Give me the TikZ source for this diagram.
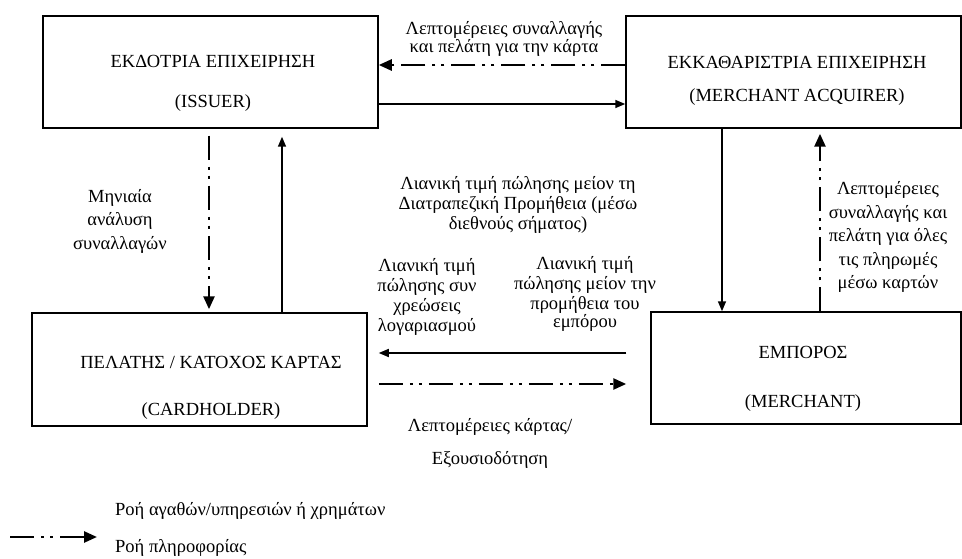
\documentclass[tikz,border=0pt]{standalone}
\usepackage{fontspec}
\setmainfont{Liberation Serif}
\usetikzlibrary{arrows.meta}

\tikzset{
  boite/.style={draw, line width=1.5pt, inner sep=0pt},
  titre/.style={font=\fontsize{18.5}{22}\selectfont, inner sep=0pt},
  legende/.style={font=\fontsize{18.5}{#1}\selectfont, align=center, inner sep=0pt},
  legende/.default=20,
  argent/.style={line width=1.6pt, -{Triangle[length=10pt,width=8pt]}},
  info/.style={line width=2.6pt, dash pattern=on 24pt off 7pt on 3pt off 6pt on 3pt off 7pt,
    -{Triangle[length=13pt,width=11pt]}},
}

\begin{document}
\begin{tikzpicture}[x=1pt,y=-1pt]
\useasboundingbox (0,0) rectangle (962,559);

%% les quatre boites
\node[boite, minimum width=335pt, minimum height=112pt] (issuer) at (210.5,72) {};
\node[boite, minimum width=335pt, minimum height=112pt] (acquirer) at (793.5,72) {};
\node[boite, minimum width=335pt, minimum height=113pt] (cardholder) at (199.5,369.5) {};
\node[boite, minimum width=310pt, minimum height=112pt] (merchant) at (806,368) {};

%% les noms dans les boites
\node[titre] (issuer-gr) at (213,61) {ΕΚΔΟΤΡΙΑ ΕΠΙΧΕΙΡΗΣΗ};
\node[titre] (issuer-en) at (213,103) {(ISSUER)};
\node[titre] (acquirer-gr) at (797,62) {ΕΚΚΑΘΑΡΙΣΤΡΙΑ ΕΠΙΧΕΙΡΗΣΗ};
\node[titre] (acquirer-en) at (797,97) {(MERCHANT ACQUIRER)};
\node[titre] (cardholder-gr) at (211,362) {ΠΕΛΑΤΗΣ / ΚΑΤΟΧΟΣ ΚΑΡΤΑΣ};
\node[titre] (cardholder-en) at (211,411) {(CARDHOLDER)};
\node[titre] (merchant-gr) at (803,352) {ΕΜΠΟΡΟΣ};
\node[titre] (merchant-en) at (803,403) {(MERCHANT)};

%% les fleches du haut
\draw[info] ([yshift=7pt]acquirer.west) -- ([yshift=7pt]issuer.east);
\draw[argent] ([yshift=-32pt]issuer.east) -- ([yshift=-32pt]acquirer.west);

%% a gauche
\draw[info, shorten <=7pt, shorten >=3pt] ([xshift=-1.5pt]issuer.south) -- ([xshift=-1.5pt]issuer.south |- cardholder.north);
\draw[argent, shorten >=8pt] ([xshift=82.5pt]cardholder.north) -- ([xshift=82.5pt]cardholder.north |- issuer.south);

%% a droite
\draw[argent] ([xshift=-71.5pt]acquirer.south) -- ([xshift=-71.5pt]acquirer.south |- merchant.north);
\draw[info, shorten >=5pt] ([xshift=14pt]merchant.north) -- ([xshift=14pt]merchant.north |- acquirer.south);

%% en bas
\draw[argent, shorten <=24pt, shorten >=11pt] ([yshift=15pt]merchant.west) -- ([yshift=15pt]merchant.west -| cardholder.east);
\draw[info, shorten <=11pt, shorten >=24pt] ([yshift=-14.5pt]cardholder.east) -- ([yshift=-14.5pt]cardholder.east -| merchant.west);

%% notations
\node[legende=17] (txt-haut) at (504,39) {Λεπτομέρειες συναλλαγής\\και πελάτη για την κάρτα};
\node[legende=23.5] (txt-mois) at (120,221) {Μηνιαία\\ανάλυση\\συναλλαγών};
\node[legende=23.5] (txt-droite) at (888,237) {Λεπτομέρειες\\συναλλαγής και\\πελάτη για όλες\\τις πληρωμές\\μέσω καρτών};
\node[legende] (txt-milieu) at (518,205) {Λιανική τιμή πώλησης μείον τη\\Διατραπεζική Προμήθεια (μέσω\\διεθνούς σήματος)};
\node[legende] (txt-client) at (427,297) {Λιανική τιμή\\πώλησης συν\\χρεώσεις\\λογαριασμού};
\node[legende=18] (txt-marchand) at (585,294) {Λιανική τιμή\\[2pt]πώλησης μείον την\\[2pt]προμήθεια του\\εμπόρου};
\node[legende=33] (txt-carte) at (490,443) {Λεπτομέρειες κάρτας/\\Εξουσιοδότηση};

%% la legende
\coordinate (leg-a) at (10,537);
\coordinate (leg-b) at (97,537);
\draw[info] (leg-a) -- (leg-b);
\node[legende, anchor=west] (leg-argent) at (115,511) {Ροή αγαθών/υπηρεσιών ή χρημάτων};
\node[legende, anchor=west] (leg-info) at (115,548) {Ροή πληροφορίας};

\end{tikzpicture}
\end{document}
